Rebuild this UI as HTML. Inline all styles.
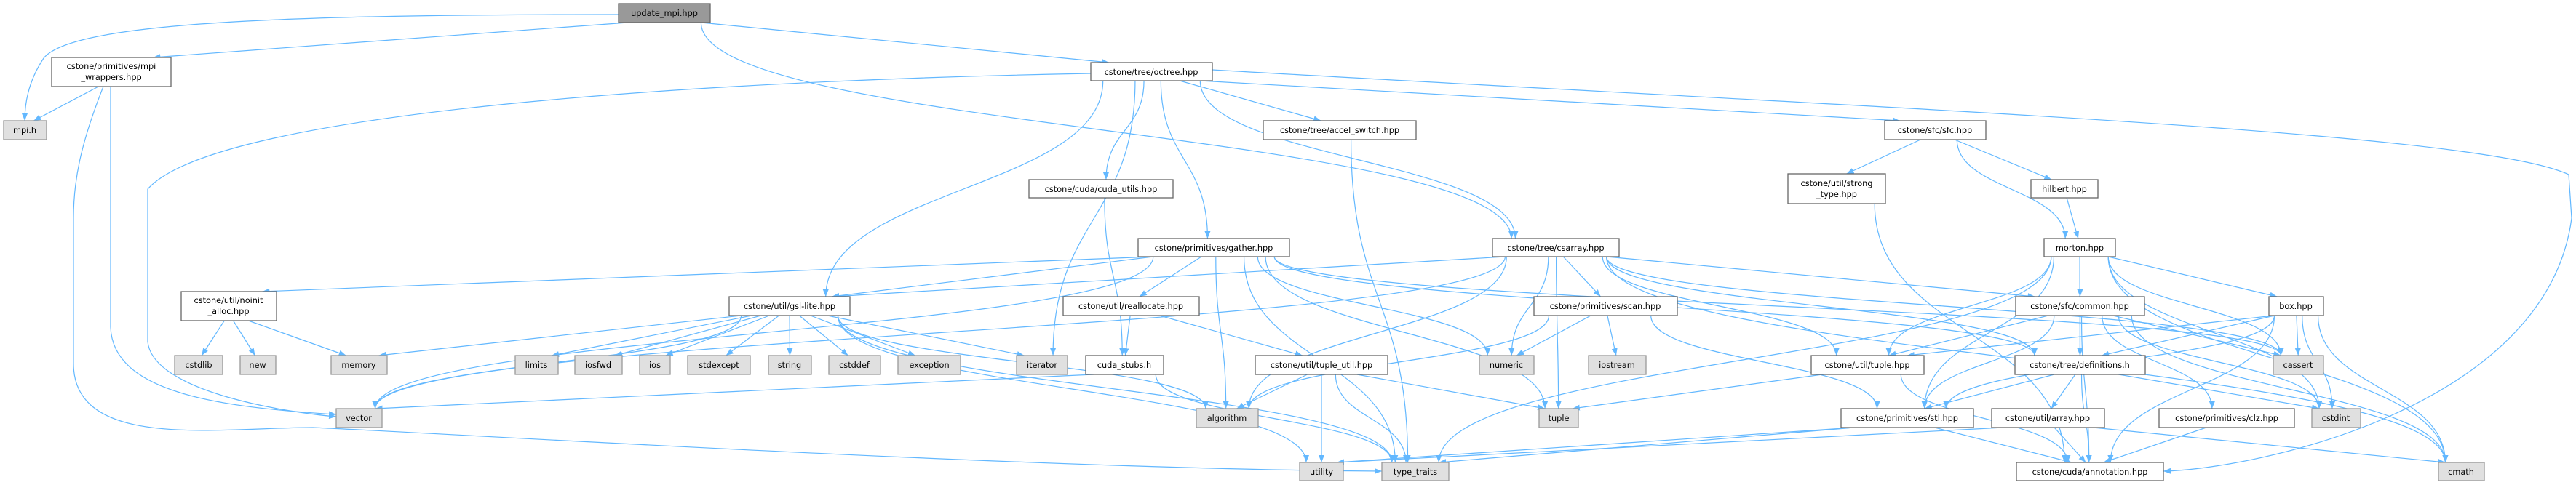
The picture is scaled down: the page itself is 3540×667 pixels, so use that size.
<!DOCTYPE html>
<html><head><meta charset="utf-8">
<style>
html,body{margin:0;padding:0;background:#fff;}
svg{display:block;}
text{font-family:"DejaVu Sans","Liberation Sans",sans-serif;font-size:11.3px;fill:#000;}
.w{fill:#fff;stroke:#666;stroke-width:1.3;}
.g{fill:#e0e0e0;stroke:#999;stroke-width:1.3;}
.d{fill:#999;stroke:#666;stroke-width:1.3;}
.e{fill:none;stroke:#63b8ff;stroke-width:1.2;}
</style></head>
<body>
<svg id="s" width="3540" height="667" viewBox="0 0 3540 667" xmlns="http://www.w3.org/2000/svg">
<defs><marker id="a" viewBox="0 0 10 10" refX="10" refY="5" markerWidth="10" markerHeight="10" markerUnits="userSpaceOnUse" orient="auto"><path d="M0,1 L10,5 L0,9 z" fill="#63b8ff"/></marker></defs>
<g id="edges"></g>
<g text-anchor="middle">
<rect class="d" x="850" y="5" width="126" height="26"/><text x="913" y="22">update_mpi.hpp</text>
<rect class="w" x="71" y="79" width="164" height="40"/><text x="153" y="95">cstone/primitives/mpi</text><text x="153" y="110">_wrappers.hpp</text>
<rect class="w" x="1499" y="86" width="167" height="25"/><text x="1582" y="103">cstone/tree/octree.hpp</text>
<rect class="g" x="5" y="166" width="59" height="26"/><text x="34" y="183">mpi.h</text>
<rect class="w" x="1736" y="166" width="210" height="26"/><text x="1841" y="183">cstone/tree/accel_switch.hpp</text>
<rect class="w" x="2590" y="166" width="139" height="26"/><text x="2659" y="183">cstone/sfc/sfc.hpp</text>
<rect class="w" x="1414" y="247" width="198" height="25"/><text x="1513" y="264">cstone/cuda/cuda_utils.hpp</text>
<rect class="w" x="2457" y="239" width="134" height="41"/><text x="2524" y="256">cstone/util/strong</text><text x="2524" y="271">_type.hpp</text>
<rect class="w" x="2791" y="247" width="92" height="25"/><text x="2837" y="264">hilbert.hpp</text>
<rect class="w" x="1564" y="328" width="208" height="25"/><text x="1668" y="345">cstone/primitives/gather.hpp</text>
<rect class="w" x="2051" y="328" width="174" height="25"/><text x="2138" y="345">cstone/tree/csarray.hpp</text>
<rect class="w" x="2809" y="328" width="98" height="25"/><text x="2858" y="345">morton.hpp</text>
<rect class="w" x="249" y="401" width="131" height="40"/><text x="314" y="417">cstone/util/noinit</text><text x="314" y="432">_alloc.hpp</text>
<rect class="w" x="1002" y="408" width="166" height="26"/><text x="1085" y="425">cstone/util/gsl-lite.hpp</text>
<rect class="w" x="1461" y="408" width="187" height="26"/><text x="1554" y="425">cstone/util/reallocate.hpp</text>
<rect class="w" x="2108" y="408" width="197" height="26"/><text x="2206" y="425">cstone/primitives/scan.hpp</text>
<rect class="w" x="2770" y="408" width="177" height="26"/><text x="2858" y="425">cstone/sfc/common.hpp</text>
<rect class="w" x="3118" y="408" width="75" height="26"/><text x="3155" y="425">box.hpp</text>
<rect class="g" x="240" y="489" width="66" height="26"/><text x="273" y="506">cstdlib</text>
<rect class="g" x="330" y="489" width="49" height="26"/><text x="354" y="506">new</text>
<rect class="g" x="455" y="489" width="77" height="26"/><text x="493" y="506">memory</text>
<rect class="g" x="708" y="489" width="59" height="26"/><text x="737" y="506">limits</text>
<rect class="g" x="790" y="489" width="65" height="26"/><text x="822" y="506">iosfwd</text>
<rect class="g" x="879" y="489" width="42" height="26"/><text x="900" y="506">ios</text>
<rect class="g" x="945" y="489" width="86" height="26"/><text x="988" y="506">stdexcept</text>
<rect class="g" x="1056" y="489" width="59" height="26"/><text x="1085" y="506">string</text>
<rect class="g" x="1139" y="489" width="71" height="26"/><text x="1174" y="506">cstddef</text>
<rect class="g" x="1234" y="489" width="86" height="26"/><text x="1277" y="506">exception</text>
<rect class="g" x="1397" y="489" width="70" height="26"/><text x="1432" y="506">iterator</text>
<rect class="w" x="1492" y="489" width="107" height="26"/><text x="1545" y="506">cuda_stubs.h</text>
<rect class="w" x="1725" y="489" width="182" height="26"/><text x="1816" y="506">cstone/util/tuple_util.hpp</text>
<rect class="g" x="2033" y="489" width="75" height="26"/><text x="2070" y="506">numeric</text>
<rect class="g" x="2183" y="489" width="79" height="26"/><text x="2222" y="506">iostream</text>
<rect class="w" x="2489" y="489" width="155" height="26"/><text x="2566" y="506">cstone/util/tuple.hpp</text>
<rect class="w" x="2769" y="489" width="179" height="26"/><text x="2858" y="506">cstone/tree/definitions.h</text>
<rect class="g" x="3124" y="489" width="69" height="26"/><text x="3158" y="506">cassert</text>
<rect class="g" x="462" y="562" width="63" height="26"/><text x="493" y="579">vector</text>
<rect class="g" x="1644" y="562" width="85" height="26"/><text x="1686" y="579">algorithm</text>
<rect class="g" x="2115" y="562" width="54" height="26"/><text x="2142" y="579">tuple</text>
<rect class="w" x="2530" y="562" width="182" height="26"/><text x="2621" y="579">cstone/primitives/stl.hpp</text>
<rect class="w" x="2737" y="562" width="155" height="26"/><text x="2814" y="579">cstone/util/array.hpp</text>
<rect class="w" x="2967" y="562" width="186" height="26"/><text x="3060" y="579">cstone/primitives/clz.hpp</text>
<rect class="g" x="3177" y="562" width="67" height="26"/><text x="3210" y="579">cstdint</text>
<rect class="g" x="1786" y="636" width="60" height="25"/><text x="1816" y="653">utility</text>
<rect class="g" x="1899" y="636" width="92" height="25"/><text x="1945" y="653">type_traits</text>
<rect class="w" x="2771" y="636" width="202" height="25"/><text x="2872" y="653">cstone/cuda/annotation.hpp</text>
<rect class="g" x="3351" y="636" width="63" height="25"/><text x="3382" y="653">cmath</text>
</g>
</svg>
<script>
var N={
upd:[850,976,5,31],mpw:[71,235,79,119],oct:[1499,1666,86,111],mpih:[5,64,166,192],acc:[1736,1946,166,192],sfc:[2590,2729,166,192],
cu:[1414,1612,247,272],st:[2457,2591,239,280],hil:[2791,2883,247,272],gat:[1564,1772,328,353],csa:[2051,2225,328,353],mor:[2809,2907,328,353],
noi:[249,380,401,441],gsl:[1002,1168,408,434],rea:[1461,1648,408,434],scan:[2108,2305,408,434],com:[2770,2947,408,434],box:[3118,3193,408,434],
cstdlib:[240,306,489,515],new_:[330,379,489,515],mem:[455,532,489,515],lim:[708,767,489,515],iosfwd:[790,855,489,515],ios:[879,921,489,515],
stdex:[945,1031,489,515],str:[1056,1115,489,515],cstddef:[1139,1210,489,515],exc:[1234,1320,489,515],it:[1397,1467,489,515],cs:[1492,1599,489,515],
tu:[1725,1907,489,515],num:[2033,2108,489,515],iost:[2183,2262,489,515],tup:[2489,2644,489,515],def:[2769,2948,489,515],cass:[3124,3193,489,515],
vec:[462,525,562,588],alg:[1644,1729,562,588],tuple:[2115,2169,562,588],stl:[2530,2712,562,588],arr:[2737,2892,562,588],clz:[2967,3153,562,588],cint:[3177,3244,562,588],
util:[1786,1846,636,661],tt:[1899,1991,636,661],ann:[2771,2973,636,661],cmath:[3351,3414,636,661]};
var E=[["upd","mpw"],["upd","oct"],["upd","csa"],["mpw","mpih"],
["oct","gsl"],["oct","it"],["oct","cu"],["oct","gat"],["oct","acc"],["oct","csa"],["oct","sfc"],
["acc","tt"],["cu","cs"],["sfc","st"],["sfc","hil"],["sfc","mor"],["st","ann"],["hil","mor"],
["gat","noi"],["gat","vec"],["gat","gsl"],["gat","rea"],["gat","alg"],["gat","num"],["gat","tuple"],["gat","def"],["gat","tt"],["gat","cass"],
["csa","gsl"],["csa","vec"],["csa","alg"],["csa","num"],["csa","scan"],["csa","tuple"],["csa","tup"],["csa","com"],["csa","def"],["csa","cass"],["csa","cmath"],
["mor","com"],["mor","box"],["mor","cass"],["mor","cint"],["mor","cmath"],["mor","tup"],["mor","stl"],["mor","tt"],["mor","def"],
["gsl","mem"],["gsl","lim"],["gsl","iosfwd"],["gsl","ios"],["gsl","stdex"],["gsl","str"],["gsl","cstddef"],["gsl","exc"],["gsl","it"],["gsl","alg"],["gsl","vec"],["gsl","util"],["gsl","tt"],
["noi","cstdlib"],["noi","new_"],["noi","mem"],["rea","cs"],["rea","tu"],["cs","vec"],["cs","tt"],
["tu","alg"],["tu","util"],["tu","tt"],["tu","tuple"],["scan","num"],["scan","iost"],["scan","alg"],["scan","stl"],
["com","def"],["com","cass"],["com","cint"],["com","cmath"],["com","clz"],["com","stl"],["com","tup"],["com","ann"],
["box","def"],["box","cass"],["box","cint"],["box","cmath"],["box","ann"],["box","stl"],["box","tup"],
["tup","tuple"],["tup","ann"],["def","arr"],["def","ann"],["def","cint"],["def","stl"],["stl","tt"],["stl","ann"],["stl","util"],
["arr","ann"],["arr","cmath"],["arr","util"],["clz","ann"]];
var custom=[
"M850,20 C400,20 100,30 60,80 C40,110 34,140 34,166",
"M1499,101 C1000,110 300,150 203,260 L203,470 C210,540 400,568 462,573",
"M152,119 L152,450 C155,540 300,560 462,570",
"M142,119 C110,200 101,250 101,300 L101,500 C101,620 300,588 430,588 C600,595 1400,645 1899,648",
"M1666,96 C2600,150 3400,180 3530,240 L3534,300 C3500,560 3100,645 2973,648"];
var g=document.getElementById("edges"),h="";
custom.forEach(function(p){h+='<path class="e" d="'+p+'" marker-end="url(#a)"/>';});
E.forEach(function(e){var s=N[e[0]],d=N[e[1]];
var sc=(s[0]+s[1])/2,dc=(d[0]+d[1])/2,sw=s[1]-s[0],dw=d[1]-d[0];
var sx=sc+Math.max(-sw*0.4,Math.min(sw*0.4,(dc-sc)*0.15));
var sy=s[3],ex,ey,p;
var dy=d[2]-sy;
ex=dc+Math.max(-dw*0.35,Math.min(dw*0.35,(sc-dc)*0.1));ey=d[2];
if(dy>90){
 p="M"+sx+","+sy+" C"+sx+","+(sy+dy*0.5)+" "+ex+","+(ey-dy*0.5)+" "+ex+","+ey;
}else{
 p="M"+sx+","+sy+" L"+ex+","+ey;
}
h+='<path class="e" d="'+p+'" marker-end="url(#a)"/>';});
g.innerHTML=h;
</script>
</body></html>
